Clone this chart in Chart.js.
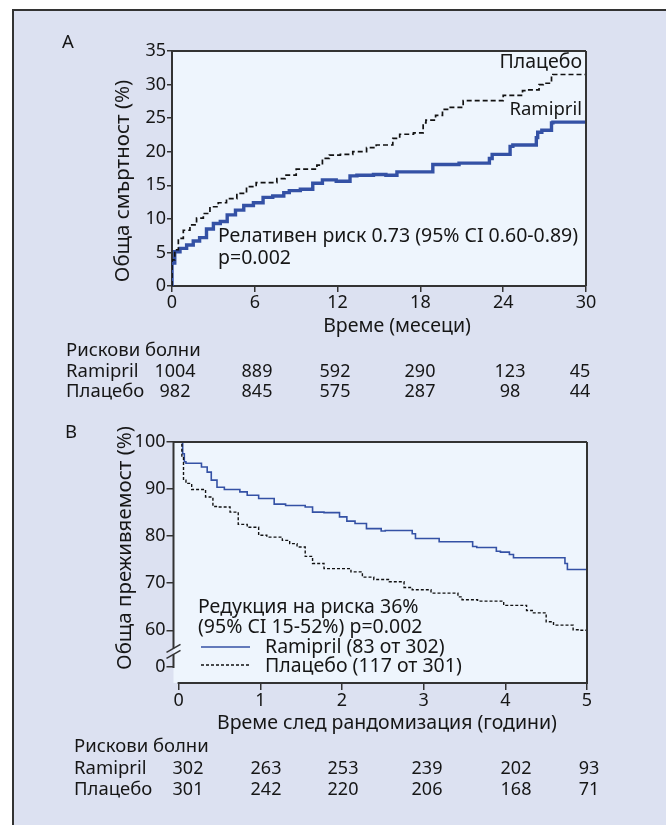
<!DOCTYPE html>
<html lang="bg">
<head>
<meta charset="utf-8">
<script src="https://cdn.jsdelivr.net/npm/chart.js@4.4.1/dist/chart.umd.min.js"></script>
<style>
  html, body { margin: 0; padding: 0; background: #fff; }
  #frame { position: absolute; left: 12px; top: 9px; width: 660px; height: 820px;
           background: #dce1f1; border-top: 2px solid #333; border-left: 2px solid #333; }
  #chartA { position: absolute; left: 0; top: 0; }
  #chartB { position: absolute; left: 0; top: 400px; }
</style>
</head>
<body>
<div id="frame"></div>
<canvas id="chartA" width="666" height="400"></canvas>
<canvas id="chartB" width="666" height="425"></canvas>
<script>
// ---- panel A: total mortality (%) vs months
const monthsRamiprilA = [0, 0.2, 0.58, 1.06, 1.54, 2.0, 2.5, 3.0, 3.5, 4.0, 4.6, 5.2, 5.9, 6.6, 7.3, 8.1, 8.5, 9.3, 10.2, 10.9, 11.9, 12.9, 13.4, 14.6, 15.5, 16.3, 16.9, 18.9, 19.5, 20.8, 23.0, 23.2, 24.5, 24.7, 26.4, 26.5, 26.8, 27.5, 27.6, 30];
const mortalityRamiprilA = [0, 3.4, 5.1, 5.6, 6.1, 6.7, 7.2, 8.5, 9.3, 9.6, 10.6, 11.3, 12.0, 12.4, 13.2, 13.4, 13.9, 14.2, 14.4, 15.3, 15.8, 15.6, 16.4, 16.5, 16.6, 16.5, 17.0, 17.0, 18.1, 18.1, 18.3, 19.0, 19.6, 20.8, 21.0, 22.1, 22.9, 23.2, 24.3, 24.4];
const monthsPlaceboA = [0, 0.2, 0.46, 0.82, 1.3, 1.78, 2.27, 2.75, 3.35, 3.95, 4.7, 5.4, 6.1, 6.85, 7.6, 8.2, 9.0, 9.7, 10.5, 10.9, 11.4, 12.2, 13.1, 14.1, 14.8, 16.0, 16.5, 17.5, 18.2, 18.4, 19.1, 19.6, 20.1, 21.1, 21.8, 24.0, 24.2, 25.4, 25.7, 26.6, 26.9, 27.5, 27.6, 30];
const mortalityPlaceboA = [0, 3.9, 5.4, 7.1, 8.3, 9.1, 10.1, 10.8, 11.8, 12.4, 13.0, 13.8, 14.8, 15.4, 15.4, 16.0, 16.5, 17.4, 17.4, 18.0, 19.0, 19.5, 19.6, 20.0, 20.6, 21.0, 22.0, 22.6, 22.8, 24.3, 24.7, 25.4, 26.3, 26.6, 27.6, 27.6, 28.4, 28.4, 29.1, 29.2, 30.0, 30.2, 31.4, 31.5];
const riskRamiprilA = ['1004', '889', '592', '290', '123', '45'];
const riskPlaceboA = ['982', '845', '575', '287', '98', '44'];

// ---- panel B: overall survival (%) vs years
const yearsRamiprilB = [0, 0.05, 0.07, 0.09, 0.28, 0.35, 0.4, 0.47, 0.56, 0.75, 0.84, 0.98, 1.17, 1.31, 1.55, 1.64, 1.78, 1.97, 2.06, 2.16, 2.3, 2.48, 2.53, 2.86, 2.9, 2.98, 3.19, 3.23, 3.6, 3.65, 3.75, 3.89, 3.94, 4.05, 4.1, 4.17, 4.73, 4.76, 5.0];
const survivalRamiprilB = [100, 100, 97.5, 95.8, 95.5, 94.7, 93.6, 91.9, 90.4, 89.9, 89.4, 88.7, 88.0, 86.8, 86.5, 86.2, 85.1, 85.0, 84.1, 83.2, 82.7, 81.6, 81.1, 81.2, 80.5, 79.5, 79.5, 78.8, 78.8, 77.8, 77.6, 77.6, 76.8, 76.6, 76.1, 75.4, 75.4, 74.2, 72.9];
const yearsPlaceboB = [0, 0.04, 0.06, 0.09, 0.16, 0.33, 0.42, 0.49, 0.63, 0.73, 0.84, 0.98, 1.08, 1.27, 1.36, 1.45, 1.55, 1.64, 1.78, 1.87, 2.11, 2.25, 2.39, 2.58, 2.76, 2.86, 3.09, 3.42, 3.47, 3.66, 3.98, 4.12, 4.26, 4.33, 4.5, 4.59, 4.83, 4.9, 5.0];
const survivalPlaceboB = [100, 100, 96.8, 91.9, 91.2, 89.9, 88.3, 86.3, 86.2, 85.1, 82.5, 81.9, 80.2, 79.8, 79.1, 78.4, 77.7, 75.7, 74.2, 73.1, 73.1, 72.4, 71.3, 70.8, 70.3, 69.1, 68.6, 67.9, 67.1, 66.5, 66.2, 65.3, 65.3, 64.2, 63.7, 61.8, 61.1, 60.1, 60.0];
const yTicksB = [52.2, 60, 70, 80, 90, 100];   // 52.2 is the broken-axis "0"
const xTicksB = [0, 1, 2, 3, 4, 5];
const riskRamiprilB = ['302', '263', '253', '239', '202', '93'];
const riskPlaceboB = ['301', '242', '220', '206', '168', '71'];

const FONT = "'Noto Sans', 'Open Sans', sans-serif";
const INK = '#161616';
const LINE = '#333';
const PLOT_BG = '#eef5fd';
const BLUE = '#3451a5';

Chart.defaults.font.family = FONT;
Chart.defaults.font.size = 18;
Chart.defaults.color = INK;

function pts(xs, ys) { return xs.map((x, i) => ({ x: x, y: ys[i] })); }

function txt(ctx, s, x, y, align, size) {
  ctx.save();
  ctx.font = (size || 18.5) + 'px ' + FONT;
  ctx.fillStyle = INK;
  ctx.textAlign = align || 'left';
  ctx.textBaseline = 'middle';
  ctx.fillText(s, x, y);
  ctx.restore();
}
function vtxt(ctx, s, x, y, size) {
  ctx.save();
  ctx.translate(x, y);
  ctx.rotate(-Math.PI / 2);
  txt(ctx, s, 0, 0, 'center', size);
  ctx.restore();
}
function line(ctx, x1, y1, x2, y2, w, color, dash) {
  ctx.save();
  ctx.strokeStyle = color || LINE;
  ctx.lineWidth = w || 2;
  ctx.setLineDash(dash || []);
  ctx.beginPath();
  ctx.moveTo(x1, y1);
  ctx.lineTo(x2, y2);
  ctx.stroke();
  ctx.restore();
}

const plotBg = {
  id: 'plotBg',
  beforeDraw(chart) {
    const a = chart.chartArea, ctx = chart.ctx;
    ctx.save();
    ctx.fillStyle = PLOT_BG;
    ctx.fillRect(a.left, a.top, a.right - a.left, a.bottom - a.top);
    ctx.restore();
  }
};

// ---------------- chart A
const colsA = [175, 257, 335, 420, 510, 580];
const textA = {
  id: 'textA',
  afterDraw(chart) {
    const a = chart.chartArea, ctx = chart.ctx;
    line(ctx, a.left - 1, a.top, a.right, a.top);
    line(ctx, a.right, a.top, a.right, a.bottom);
    txt(ctx, 'A', 68, 43, 'center');
    vtxt(ctx, 'Обща смъртност (%)', 123, 181, 20.5);
    txt(ctx, 'Време (месеци)', 397, 326, 'center', 19.5);
    txt(ctx, 'Плацебо', 582, 62, 'right', 19.5);
    txt(ctx, 'Ramipril', 582, 110, 'right');
    txt(ctx, 'Релативен риск 0.73 (95% CI 0.60-0.89)', 218, 236, 'left', 19.5);
    txt(ctx, 'p=0.002', 218, 258, 'left', 19.5);
    txt(ctx, 'Рискови болни', 66, 351);
    txt(ctx, 'Ramipril', 66, 372);
    txt(ctx, 'Плацебо', 66, 392);
    colsA.forEach((cx, i) => {
      txt(ctx, riskRamiprilA[i], cx, 372, 'center', 18);
      txt(ctx, riskPlaceboA[i], cx, 392, 'center', 18);
    });
  }
};

new Chart(document.getElementById('chartA'), {
  type: 'line',
  data: {
    datasets: [
      { label: 'Плацебо', data: pts(monthsPlaceboA, mortalityPlaceboA), stepped: 'after',
        borderColor: '#111', borderWidth: 1.7, borderDash: [5, 3], pointRadius: 0 },
      { label: 'Ramipril', data: pts(monthsRamiprilA, mortalityRamiprilA), stepped: 'after',
        borderColor: BLUE, borderWidth: 3.4, pointRadius: 0 }
    ]
  },
  options: {
    responsive: false, animation: false, events: [],
    layout: { padding: { left: 0, top: 51, right: 80, bottom: 0 } },
    plugins: { legend: { display: false }, tooltip: { enabled: false } },
    scales: {
      x: {
        type: 'linear', min: 0, max: 30,
        ticks: { stepSize: 6, padding: 0, maxRotation: 0 },
        grid: { drawOnChartArea: false, tickLength: 6, color: LINE, lineWidth: 1.5 },
        border: { color: LINE, width: 2 },
        afterFit(s) { s.height = 400 - 286; }
      },
      y: {
        min: 0, max: 35,
        ticks: { stepSize: 5, padding: 1 },
        grid: { drawOnChartArea: false, tickLength: 5, color: LINE, lineWidth: 1.5 },
        border: { color: LINE, width: 2 },
        afterFit(s) { s.width = 172; }
      }
    }
  },
  plugins: [plotBg, textA]
});

// ---------------- chart B
const colsB = [188, 266, 343, 427, 516, 589];
const textB = {
  id: 'textB',
  afterDraw(chart) {
    const a = chart.chartArea, ctx = chart.ctx;
    const xs = chart.scales.x, ys = chart.scales.y;
    const yBreak = ys.getPixelForValue(55.5);
    const yZero = ys.getPixelForValue(yTicksB[0]);
    line(ctx, a.left, a.top, a.right, a.top);
    line(ctx, a.right, a.top, a.right, a.bottom + 1);
    line(ctx, a.left, a.top - 1, a.left, yBreak - 3);
    line(ctx, a.left, yBreak + 3, a.left, yZero + 1);
    line(ctx, a.left - 7, yBreak + 1, a.left + 7, yBreak - 7, 1.5);
    line(ctx, a.left - 7, yBreak + 7, a.left + 7, yBreak - 1, 1.5);
    line(ctx, xs.getPixelForValue(0) - 1, a.bottom, a.right + 1, a.bottom);
    txt(ctx, 'B', 71, 33, 'center');
    vtxt(ctx, 'Обща преживяемост (%)', 125, 148, 20.5);
    txt(ctx, 'Време след рандомизация (години)', 387, 323, 'center', 19.5);
    txt(ctx, 'Редукция на риска 36%', 198, 207, 'left', 19.5);
    txt(ctx, '(95% CI 15-52%) p=0.002', 198, 227, 'left', 19.5);
    line(ctx, 201, 247, 250, 247, 1.5, BLUE);
    line(ctx, 201, 265, 250, 265, 1.4, '#111', [3, 2]);
    txt(ctx, 'Ramipril (83 от 302)', 265, 247, 'left', 19.5);
    txt(ctx, 'Плацебо (117 от 301)', 265, 266, 'left', 19.5);
    txt(ctx, 'Рискови болни', 74, 347);
    txt(ctx, 'Ramipril', 74, 369);
    txt(ctx, 'Плацебо', 74, 390);
    colsB.forEach((cx, i) => {
      txt(ctx, riskRamiprilB[i], cx, 369, 'center', 18);
      txt(ctx, riskPlaceboB[i], cx, 390, 'center', 18);
    });
  }
};

new Chart(document.getElementById('chartB'), {
  type: 'line',
  data: {
    datasets: [
      { label: 'Плацебо', data: pts(yearsPlaceboB, survivalPlaceboB), stepped: 'after',
        borderColor: '#111', borderWidth: 1.4, borderDash: [3, 2], pointRadius: 0 },
      { label: 'Ramipril', data: pts(yearsRamiprilB, survivalRamiprilB), stepped: 'after',
        borderColor: BLUE, borderWidth: 1.6, pointRadius: 0 }
    ]
  },
  options: {
    responsive: false, animation: false, events: [],
    layout: { padding: { left: 0, top: 42, right: 79, bottom: 0 } },
    plugins: { legend: { display: false }, tooltip: { enabled: false } },
    scales: {
      x: {
        type: 'linear', min: -0.0625, max: 5,
        afterBuildTicks(s) { s.ticks = xTicksB.map(v => ({ value: v })); },
        ticks: { padding: 0, maxRotation: 0 },
        grid: { drawOnChartArea: false, tickLength: 7, color: LINE, lineWidth: 1.5 },
        border: { display: false },
        afterFit(s) { s.height = 425 - 283; }
      },
      y: {
        min: 48.8, max: 100,
        afterBuildTicks(s) { s.ticks = yTicksB.map(v => ({ value: v })); },
        ticks: { padding: 1, callback: v => (v < 55 ? '0' : v) },
        grid: { drawOnChartArea: false, tickLength: 7, color: LINE, lineWidth: 1.5 },
        border: { display: false },
        afterFit(s) { s.width = 173.5; }
      }
    }
  },
  plugins: [plotBg, textB]
});
</script>
</body>
</html>
